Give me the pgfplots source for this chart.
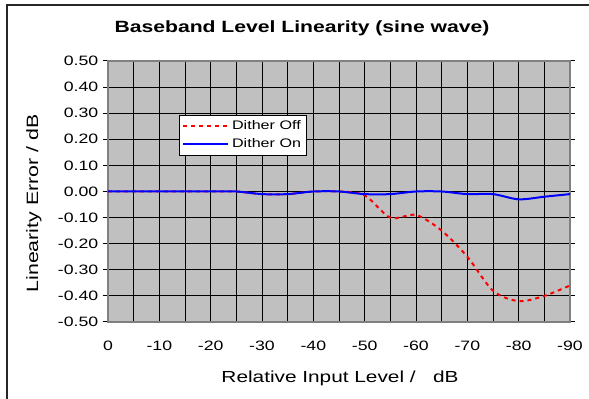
\documentclass[border=0pt]{standalone}
\usepackage{pgfplots}
\pgfplotsset{compat=1.18}
\usepackage{fontspec}
\setmainfont{Liberation Sans}[FakeStretch=1.3]
\definecolor{plotbg}{RGB}{192,192,192}
\definecolor{bordergray}{RGB}{128,128,128}
\begin{document}
\begin{tikzpicture}
\path[use as bounding box] (0,0) rectangle (441.75pt,299.25pt);
\draw[black!85, line width=1.5pt] (5.25pt,0) -- (5.25pt,295.5pt) -- (441.75pt,295.5pt);
\begin{axis}[
  at={(81pt,57.75pt)}, anchor=south west,
  scale only axis, width=346.5pt, height=195.75pt,
  xmin=-90, xmax=0, x dir=reverse,
  ymin=-0.5, ymax=0.5,
  xtick={0,-10,-20,-30,-40,-50,-60,-70,-80,-90},
  minor xtick={-5,-15,-25,-35,-45,-55,-65,-75,-85},
  ytick={-0.5,-0.4,-0.3,-0.2,-0.1,0,0.1,0.2,0.3,0.4,0.5},
  grid=both,
  major grid style={black, line width=0.7pt},
  minor grid style={black, line width=0.7pt},
  axis background/.style={fill=plotbg},
  axis line style={bordergray, line width=1.2pt},
  tick align=outside,
  major tick length=3.75pt,
  xtick style={draw=none},
  minor tick style={draw=none},
  ytick style={black, line width=0.75pt},
  /pgf/number format/assume math mode=true,
  yticklabel style={/pgf/number format/fixed, /pgf/number format/precision=2, /pgf/number format/fixed zerofill, font=\fontsize{10.2}{12}\selectfont},
  xticklabel style={font=\fontsize{10.2}{12}\selectfont, yshift=-7pt},
  legend cell align=left,
  legend style={at={(0.154,0.793)}, anchor=north west, fill=white, draw=black, font=\fontsize{9.3}{10}\selectfont, inner sep=2pt, row sep=1.5pt},
  legend image code/.code={\draw[#1] (0pt,0pt) -- (34pt,0pt);},
]
\addplot[red, line width=1.5pt, dash pattern=on 3pt off 3pt, smooth] coordinates {
(0,0) (-5,0) (-10,0) (-15,0) (-20,0) (-25,0) (-30,-0.01) (-35,-0.01) (-40,0) (-45,0)
(-50,-0.015) (-55,-0.10) (-60,-0.09) (-65,-0.15) (-70,-0.25) (-75,-0.38)
(-80,-0.42) (-85,-0.40) (-90,-0.36)
};
\addlegendentry{Dither Off}
\addplot[blue, line width=1.5pt, smooth] coordinates {
(0,0) (-5,0) (-10,0) (-15,0) (-20,0) (-25,0) (-30,-0.01) (-35,-0.01) (-40,0) (-45,0)
(-50,-0.01) (-55,-0.01) (-60,0) (-65,0) (-70,-0.01) (-75,-0.01)
(-80,-0.03) (-85,-0.02) (-90,-0.01)
};
\addlegendentry{Dither On}
\end{axis}
\node[font=\bfseries\fontsize{12.2}{14}\selectfont] at (226.5pt,278.25pt) {Baseband Level Linearity (sine wave)};
\node[font=\fontsize{12}{14}\selectfont] at (255pt,15.75pt) {Relative Input Level /\ \ \ dB};
\node[rotate=90, font=\fontsize{12.3}{14}\selectfont] at (25.5pt,146.6pt) {Linearity Error / dB};
\end{tikzpicture}
\end{document}
